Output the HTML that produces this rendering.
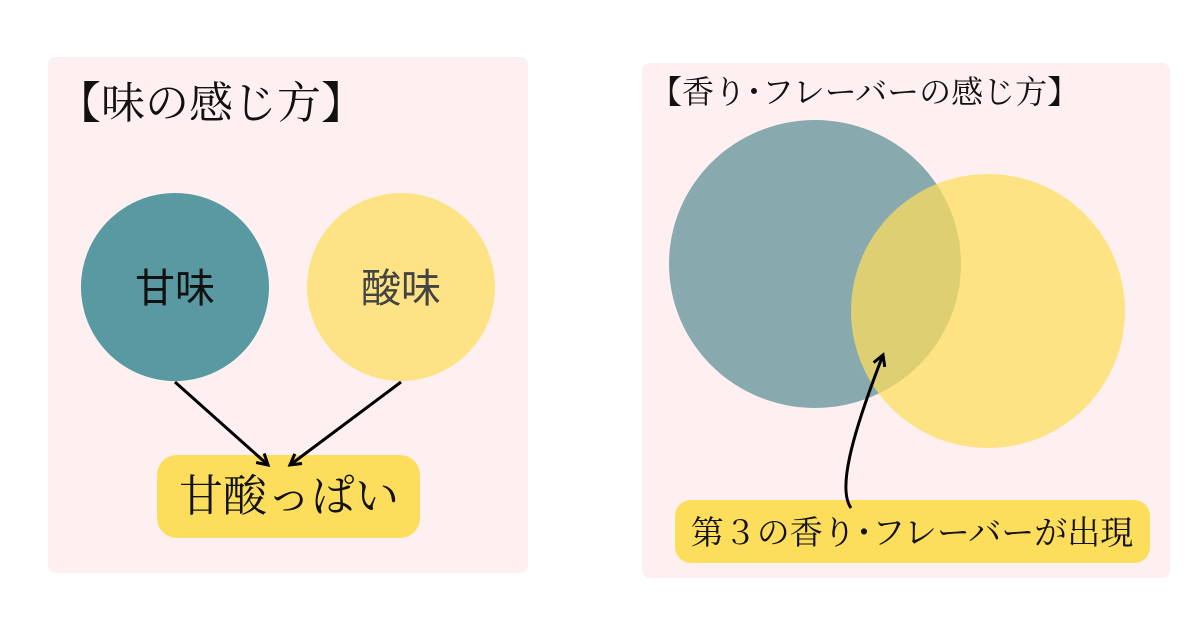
<!DOCTYPE html>
<html><head><meta charset="utf-8"><style>
html,body{margin:0;padding:0;background:#fff;}
body{width:1200px;height:630px;position:relative;overflow:hidden;}
</style></head><body>
<svg width="1200" height="630" viewBox="0 0 1200 630" xmlns="http://www.w3.org/2000/svg">
<defs>
<marker id="ah" viewBox="0 0 10 10" refX="8" refY="5" markerWidth="5" markerHeight="5" orient="auto">
<path d="M1,1 L8,5 L1,9" fill="none" stroke="#000" stroke-width="2"/>
</marker>
</defs>
<rect x="48" y="57" width="480" height="516" rx="8" fill="#fef0f1"/>
<rect x="642" y="63" width="528" height="515" rx="8" fill="#fef0f1"/>
<text x="57" y="118" font-size="44" fill="#111" font-family="Liberation Serif, Noto Serif CJK SC, serif">【味の感じ方】</text>
<circle cx="175" cy="287" r="94" fill="#5899a2"/>
<circle cx="401" cy="287" r="94" fill="#fde385"/>
<text x="175" y="302" font-size="40" text-anchor="middle" fill="#111" font-family="Liberation Sans, Noto Sans CJK JP, sans-serif">甘味</text>
<text x="401" y="302" font-size="40" text-anchor="middle" fill="#444" font-family="Liberation Sans, Noto Sans CJK JP, sans-serif">酸味</text>
<rect x="157" y="455" width="263" height="83" rx="20" fill="#fddd5c"/>
<text x="289" y="511" font-size="44" text-anchor="middle" fill="#111" font-family="Liberation Serif, Noto Serif CJK SC, serif">甘酸っぱい</text>
<line x1="175" y1="382" x2="268" y2="465" stroke="#000" stroke-width="3" marker-end="url(#ah)"/>
<line x1="401" y1="382" x2="290" y2="465" stroke="#000" stroke-width="3" marker-end="url(#ah)"/>
<text x="650" y="103" font-size="32" fill="#111" font-family="Liberation Serif, Noto Serif CJK SC, serif">【香り･フレーバーの感じ方】</text>
<ellipse cx="815" cy="264" rx="146" ry="144" fill="#88a9ae"/>
<circle cx="988" cy="311" r="137" fill="#fdde5b" fill-opacity="0.72"/>
<rect x="675" y="500" width="475" height="63" rx="16" fill="#fddd5c"/>
<text x="912" y="544" font-size="33" text-anchor="middle" fill="#111" font-family="Liberation Serif, Noto Serif CJK SC, serif">第３の香り･フレーバーが出現</text>
<path d="M851,508 C838,490 850,440 883,355" fill="none" stroke="#000" stroke-width="3" marker-end="url(#ah)"/>
</svg>
</body></html>
